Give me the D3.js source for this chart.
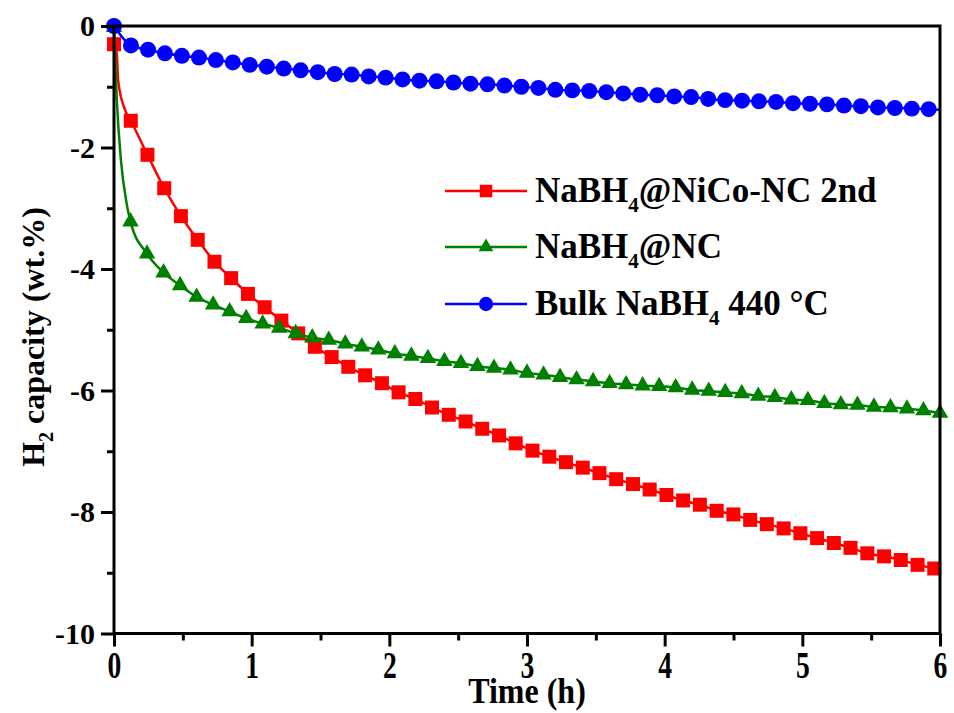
<!DOCTYPE html>
<html>
<head>
<meta charset="utf-8">
<script src="https://cdn.jsdelivr.net/npm/d3@7"></script>
<style>
  html, body { margin: 0; padding: 0; background: #fff; }
  svg { display: block; }
  text { font-family: "Liberation Serif", "Times New Roman", serif; font-weight: bold; fill: #000; }
</style>
</head>
<body>
<svg id="chart" width="954" height="713"></svg>
<script>
// ---------------- DATA ----------------
const xTicks = [0, 1, 2, 3, 4, 5, 6];
const yTicks = [0, -2, -4, -6, -8, -10];
const xMinorTicks = [0.5, 1.5, 2.5, 3.5, 4.5, 5.5];
const yMinorTicks = [-1, -3, -5, -7, -9];

const seriesNames = ["NaBH4@NiCo-NC 2nd", "NaBH4@NC", "Bulk NaBH4 440 °C"];

// NaBH4@NiCo-NC 2nd (red squares)
const redTime = [0, 0.122, 0.243, 0.365, 0.486, 0.608, 0.730, 0.851, 0.973, 1.094,
  1.216, 1.338, 1.459, 1.581, 1.702, 1.824, 1.946, 2.067, 2.189, 2.310,
  2.432, 2.554, 2.675, 2.797, 2.918, 3.040, 3.162, 3.283, 3.405, 3.526,
  3.648, 3.770, 3.891, 4.013, 4.134, 4.256, 4.378, 4.499, 4.621, 4.742,
  4.864, 4.986, 5.107, 5.229, 5.350, 5.472, 5.594, 5.715, 5.837, 5.958];
const redValues = [-0.30, -1.56, -2.12, -2.67, -3.13, -3.52, -3.88, -4.15, -4.41, -4.63,
  -4.85, -5.06, -5.28, -5.45, -5.61, -5.75, -5.88, -6.03, -6.14, -6.28,
  -6.40, -6.51, -6.63, -6.74, -6.87, -6.99, -7.09, -7.18, -7.27, -7.36,
  -7.46, -7.54, -7.63, -7.72, -7.81, -7.88, -7.98, -8.04, -8.13, -8.20,
  -8.27, -8.35, -8.43, -8.51, -8.59, -8.68, -8.73, -8.79, -8.87, -8.93];
// unmarked early readings of the red curve
const redEarlyTime = [0.02, 0.03, 0.08];
const redEarlyValues = [-0.45, -0.90, -1.38];

// NaBH4@NC (green triangles)
const greenTime = [0, 0.12, 0.24, 0.36, 0.48, 0.60, 0.72, 0.84, 0.96, 1.08,
  1.20, 1.32, 1.44, 1.56, 1.68, 1.80, 1.92, 2.04, 2.16, 2.28,
  2.40, 2.52, 2.64, 2.76, 2.88, 3.00, 3.12, 3.24, 3.36, 3.48,
  3.60, 3.72, 3.84, 3.96, 4.08, 4.20, 4.32, 4.44, 4.56, 4.68,
  4.80, 4.92, 5.04, 5.16, 5.28, 5.40, 5.52, 5.64, 5.76, 5.88, 6.00];
const greenValues = [-0.02, -3.22, -3.75, -4.06, -4.27, -4.46, -4.59, -4.70, -4.81, -4.90,
  -4.97, -5.06, -5.13, -5.17, -5.23, -5.28, -5.33, -5.39, -5.43, -5.47,
  -5.52, -5.55, -5.60, -5.63, -5.66, -5.71, -5.74, -5.78, -5.82, -5.85,
  -5.88, -5.90, -5.92, -5.93, -5.95, -5.99, -6.01, -6.03, -6.05, -6.09,
  -6.11, -6.15, -6.16, -6.21, -6.23, -6.24, -6.27, -6.28, -6.30, -6.33, -6.37];
const greenEarlyTime = [0.02, 0.05, 0.09];
const greenEarlyValues = [-1.20, -2.20, -2.90];

// Bulk NaBH4 440 °C (blue circles)
const blueTime = [0, 0.123, 0.247, 0.370, 0.493, 0.617, 0.740, 0.863, 0.986, 1.110,
  1.233, 1.356, 1.480, 1.603, 1.726, 1.850, 1.973, 2.096, 2.219, 2.343,
  2.466, 2.589, 2.713, 2.836, 2.959, 3.083, 3.206, 3.329, 3.452, 3.576,
  3.699, 3.822, 3.946, 4.069, 4.192, 4.316, 4.439, 4.562, 4.685, 4.809,
  4.932, 5.055, 5.179, 5.302, 5.425, 5.549, 5.672, 5.795, 5.918];
const blueValues = [0, -0.32, -0.39, -0.45, -0.49, -0.52, -0.56, -0.60, -0.64, -0.67,
  -0.70, -0.73, -0.76, -0.79, -0.80, -0.83, -0.85, -0.88, -0.90, -0.91,
  -0.93, -0.95, -0.96, -0.98, -1.00, -1.02, -1.05, -1.06, -1.07, -1.09,
  -1.11, -1.13, -1.14, -1.16, -1.17, -1.20, -1.22, -1.23, -1.24, -1.25,
  -1.27, -1.28, -1.29, -1.31, -1.32, -1.34, -1.35, -1.36, -1.37];
const blueLateTime = [6.0];
const blueLateValues = [-1.38];

// ---------------- CHART ----------------
const svg = d3.select("#chart");
const mLeft = 114, mRight = 940, mTop = 26, mBottom = 633.5;

const x = d3.scaleLinear().domain([0, 6]).range([mLeft, mRight]);
const y = d3.scaleLinear().domain([-10, 0]).range([mBottom, mTop]);

const zip = (t, v) => t.map((d, i) => ({ t: d, v: v[i] }));

const series = [
  { name: seriesNames[0], color: "#ff0000", symbol: d3.symbolSquare, size: 196,
    marks: zip(redTime, redValues),
    line: zip([redTime[0]].concat(redEarlyTime, redTime.slice(1)), [redValues[0]].concat(redEarlyValues, redValues.slice(1))) },
  { name: seriesNames[1], color: "#008000", symbol: d3.symbolTriangle, size: 118,
    marks: zip(greenTime, greenValues),
    line: zip([greenTime[0]].concat(greenEarlyTime, greenTime.slice(1)), [greenValues[0]].concat(greenEarlyValues, greenValues.slice(1))) },
  { name: seriesNames[2], color: "#0000ff", symbol: d3.symbolCircle, size: 200,
    marks: zip(blueTime, blueValues),
    line: zip(blueTime.concat(blueLateTime), blueValues.concat(blueLateValues)) }
];

const lineGen = d3.line().x(d => x(d.t)).y(d => y(d.v)).curve(d3.curveMonotoneX);

const dataG = svg.append("g");
series.forEach(s => {
  dataG.append("path")
    .attr("d", lineGen(s.line))
    .attr("fill", "none")
    .attr("stroke", s.color)
    .attr("stroke-width", 2.5);
  dataG.selectAll(null).data(s.marks).enter().append("path")
    .attr("d", d3.symbol().type(s.symbol).size(s.size))
    .attr("transform", d => `translate(${x(d.t)},${y(d.v)})`)
    .attr("fill", s.color);
});

// Axes
const fmt = d => String(d);
const axisStyle = g => {
  g.select(".domain").remove();
  g.selectAll(".tick line").attr("stroke", "#000").attr("stroke-width", 3);
  g.selectAll(".tick text").style("font-size", "30px").style("font-family", "'Liberation Serif', serif").style("font-weight", "bold");
};

svg.append("g").attr("transform", `translate(${mLeft},0)`)
  .call(d3.axisLeft(y).tickValues(yTicks).tickFormat(fmt).tickSize(13).tickPadding(6))
  .call(axisStyle);
svg.append("g").attr("transform", `translate(${mLeft},0)`)
  .call(d3.axisLeft(y).tickValues(yMinorTicks).tickFormat("").tickSize(7))
  .call(axisStyle);
const xAxisG = svg.append("g").attr("transform", `translate(0,${mBottom})`)
  .call(d3.axisBottom(x).tickValues(xTicks).tickFormat(fmt).tickSize(13).tickPadding(6))
  .call(axisStyle);
// x tick labels in the figure are drawn taller than wide
xAxisG.selectAll(".tick text")
  .attr("y", 14)
  .attr("transform", "scale(0.92,1.25)");
svg.append("g").attr("transform", `translate(0,${mBottom})`)
  .call(d3.axisBottom(x).tickValues(xMinorTicks).tickFormat("").tickSize(7))
  .call(axisStyle);

// frame
svg.append("rect")
  .attr("x", mLeft).attr("y", mTop)
  .attr("width", mRight - mLeft).attr("height", mBottom - mTop)
  .attr("fill", "none").attr("stroke", "#000").attr("stroke-width", 3);

// axis titles
svg.append("text")
  .attr("transform", `translate(${(mLeft + mRight) / 2},703) scale(1,1.12)`)
  .attr("text-anchor", "middle")
  .style("font-size", "32px")
  .text("Time (h)");

const yt = svg.append("text")
  .attr("transform", `translate(44,337) rotate(-90)`)
  .attr("text-anchor", "middle")
  .style("font-size", "32px");
yt.append("tspan").text("H");
yt.append("tspan").attr("dy", 9).style("font-size", "20px").text("2");
yt.append("tspan").attr("dy", -9).text(" capacity (wt.%)");

// legend
const legRows = [191, 247, 304];
const legName = [
  ["NaBH", "4", "@NiCo-NC 2nd"],
  ["NaBH", "4", "@NC"],
  ["Bulk NaBH", "4", " 440 °C"]
];
series.forEach((s, i) => {
  const g = svg.append("g").attr("transform", `translate(0,${legRows[i]})`);
  g.append("line").attr("x1", 445).attr("x2", 527).attr("y1", 0).attr("y2", 0)
    .attr("stroke", s.color).attr("stroke-width", 2.5);
  g.append("path").attr("d", d3.symbol().type(s.symbol).size(s.size * 0.8)())
    .attr("transform", "translate(486,0)").attr("fill", s.color);
  const t = g.append("text").attr("x", 535).attr("y", 11).style("font-size", "35px");
  t.append("tspan").text(legName[i][0]);
  t.append("tspan").attr("dy", 10).style("font-size", "21px").text(legName[i][1]);
  t.append("tspan").attr("dy", -10).text(legName[i][2]);
});
</script>
</body>
</html>
